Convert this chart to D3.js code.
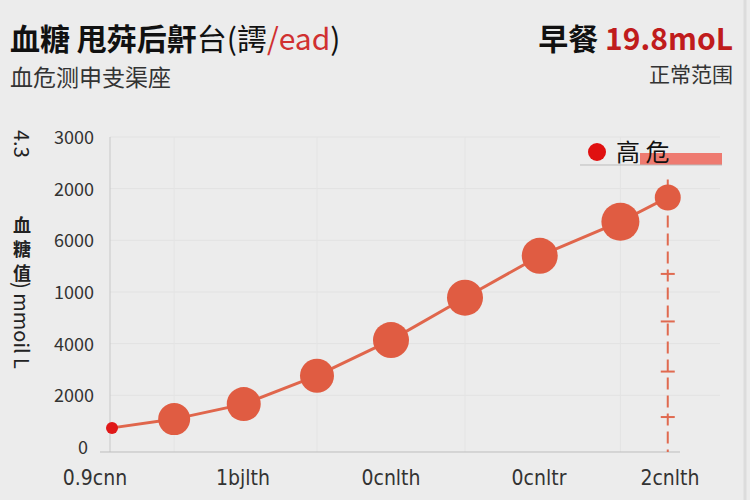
<!DOCTYPE html>
<html><head><meta charset="utf-8">
<script src="https://cdn.jsdelivr.net/npm/d3@7"></script>
<style>body{margin:0;background:#ececec;font-family:"Noto Sans CJK SC","Noto Sans",sans-serif}</style>
</head><body><svg id="c" width="750" height="500"></svg>
<script>
const xVals=[0.23,1.07,2.01,3.0,4.0,5.0,6.01,7.1,7.74];
const yVals=[0.37,0.54,0.83,1.38,2.07,2.89,3.7,4.36,4.83];
const radii=[6,16,17,17,18,18,18,19,13];
const yTickVals=[0,1,2,3,4,5,6];
const yTickLabels=["0","2000","4000","1000","6000","2000","3000"];
const xTickVals=[0,2,4,6,7.77];
const xTickLabels=["0.9cnn","1bjlth","0cnlth","0cnltr","2cnlth"];
const crossVals=[0.58,1.46,2.43,3.35];

const svg=d3.select("#c");
svg.append("rect").attr("width",750).attr("height",500).attr("fill","#ececec");
svg.append("line").attr("x1",745).attr("x2",745).attr("y1",0).attr("y2",500).attr("stroke","#dcdcdc").attr("stroke-width",3);
const x=d3.scaleLinear([0,8],[95,687]);
const y=d3.scaleLinear([0,6],[447,137]);

svg.selectAll(".hg").data(yTickVals.slice(1)).join("line").attr("x1",110).attr("x2",720)
 .attr("y1",d=>y(d)).attr("y2",d=>y(d)).attr("stroke","#e2e2e2");
svg.selectAll(".vg").data([1.07,3,5,7.1]).join("line").attr("x1",d=>x(d)).attr("x2",d=>x(d))
 .attr("y1",137).attr("y2",452).attr("stroke","#e4e4e4");
svg.append("line").attr("x1",110).attr("x2",110).attr("y1",137).attr("y2",452).attr("stroke","#c8c8c8");
svg.append("line").attr("x1",100).attr("x2",680).attr("y1",452).attr("y2",452).attr("stroke","#bdbdbd");
svg.selectAll(".yl").data(yTickVals).join("text").attr("x",d=>d===0?88:94).attr("y",d=>y(d)+7)
 .attr("text-anchor","end").attr("font-size",18).attr("fill","#333").text((d,i)=>yTickLabels[i]);
svg.selectAll(".xl").data(xTickVals).join("text").attr("x",d=>x(d)).attr("y",485)
 .attr("text-anchor","middle").attr("font-size",21).attr("fill","#333").attr("font-family","Liberation Sans Narrow, DejaVu Sans Condensed, sans-serif").text((d,i)=>xTickLabels[i]);

svg.append("text").attr("transform","translate(14,130) rotate(90)").attr("font-size",20).attr("fill","#222").text("4.3");
svg.append("text").attr("transform","translate(14,215) rotate(90)").attr("font-size",19).attr("font-weight","bold").attr("fill","#222")
 .attr("style","writing-mode:vertical-rl;glyph-orientation-vertical:0").attr("letter-spacing",2).text("");
const ytg=svg.append("g");
["血","糖","值"].forEach((c,i)=>ytg.append("text").attr("x",22).attr("y",232+i*24).attr("text-anchor","middle").attr("font-size",18).attr("font-weight","bold").attr("fill","#222").text(c));
svg.append("text").attr("transform","translate(14,282) rotate(90)").attr("font-size",20).attr("fill","#222").text(") mmoil L");

const last=xVals.length-1;
svg.append("line").attr("x1",x(xVals[last])).attr("x2",x(xVals[last])).attr("y1",y(yVals[last])-18).attr("y2",452)
 .attr("stroke","#e06a50").attr("stroke-width",2).attr("stroke-dasharray","12,6");
svg.selectAll(".cr").data(crossVals).join("line").attr("x1",x(xVals[last])-7).attr("x2",x(xVals[last])+7)
 .attr("y1",d=>y(d)).attr("y2",d=>y(d)).attr("stroke","#e06a50").attr("stroke-width",2);

const pts=xVals.map((v,i)=>[v,yVals[i]]);
svg.append("path").attr("d",d3.line().x(d=>x(d[0])).y(d=>y(d[1]))(pts)).attr("fill","none").attr("stroke","#e0664c").attr("stroke-width",3);
svg.selectAll(".pt").data(pts).join("circle").attr("cx",d=>x(d[0])).attr("cy",d=>y(d[1])).attr("r",(d,i)=>radii[i])
 .attr("fill",(d,i)=>i===0?"#e01818":"#e05c42");

svg.append("rect").attr("x",640).attr("y",153).attr("width",82).attr("height",12).attr("fill","#ee7a70");
svg.append("line").attr("x1",580).attr("x2",722).attr("y1",165).attr("y2",165).attr("stroke","#bbb");
svg.append("circle").attr("cx",597).attr("cy",152).attr("r",9).attr("fill","#e01010");
svg.append("text").attr("x",616).attr("y",161).attr("font-size",24).attr("fill","#111").text("高  危");

const t=svg.append("text").attr("x",10).attr("y",50).attr("font-size",30).attr("font-weight","bold").attr("fill","#111");
t.append("tspan").text("血糖 甩荈后鼾");
t.append("tspan").attr("font-weight","normal").text("台(謣");
t.append("tspan").attr("fill","#d03030").attr("font-weight","normal").text("/ead");
t.append("tspan").attr("font-weight","normal").text(")");
svg.append("text").attr("x",10).attr("y",86).attr("font-size",23).attr("fill","#333").text("血危测申叏渠座");
const t2=svg.append("text").attr("x",733).attr("y",50).attr("text-anchor","end").attr("font-size",30).attr("font-weight","bold").attr("fill","#111");
t2.append("tspan").text("早餐 ");
t2.append("tspan").attr("fill","#c01c1c").text("19.8moL");
svg.append("text").attr("x",733).attr("y",82).attr("text-anchor","end").attr("font-size",21).attr("fill","#333").text("正常范围");
</script></body></html>
